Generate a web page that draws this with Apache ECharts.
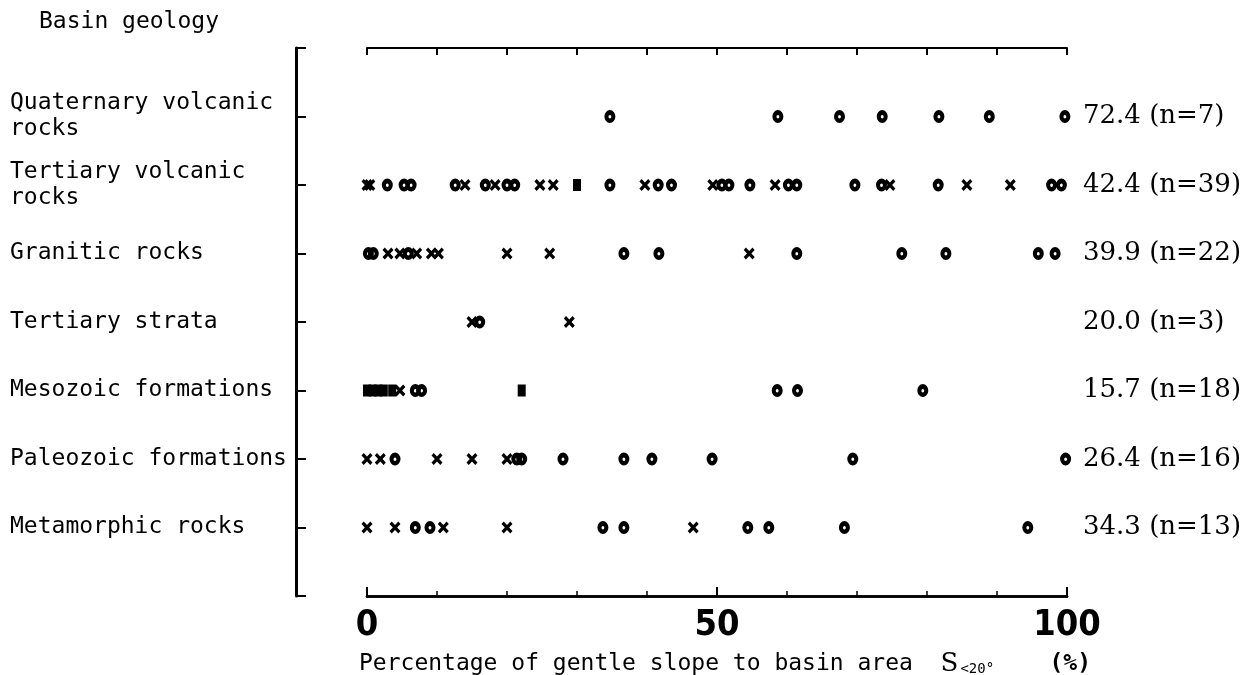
<!DOCTYPE html>
<html>
<head>
<meta charset="utf-8">
<script src="https://cdn.jsdelivr.net/npm/echarts@6/dist/echarts.min.js"></script>
<style>
html,body{margin:0;padding:0;background:#fff;}
#main{width:1248px;height:675px;}
</style>
</head>
<body>
<div id="main"></div>
<script>
// rows, top to bottom
var geology = ['Quaternary volcanic\nrocks', 'Tertiary volcanic\nrocks', 'Granitic rocks', 'Tertiary strata',
               'Mesozoic formations', 'Paleozoic formations', 'Metamorphic rocks'];
var summary = ['72.4 (n=7)', '42.4 (n=39)', '39.9 (n=22)', '20.0 (n=3)', '15.7 (n=18)', '26.4 (n=16)', '34.3 (n=13)'];
var xTicks = [0, 50, 100];

// S<20 values (%) per row, by marker
var circleVals = [
    [34.7, 58.7, 67.5, 73.6, 81.7, 88.9, 99.7],
    [2.9, 5.3, 6.3, 12.6, 16.9, 20.0, 21.1, 34.7, 41.6, 43.5, 50.7, 51.7, 54.7, 60.2, 61.4, 69.7, 73.5, 81.6, 97.8, 99.2],
    [0.2, 0.9, 5.9, 36.7, 41.7, 61.4, 76.4, 82.7, 95.9, 98.3],
    [16.1],
    [6.9, 7.8, 58.6, 61.5, 79.4],
    [4.0, 21.4, 22.1, 28.0, 36.7, 40.7, 49.3, 69.4, 99.8],
    [6.9, 9.0, 33.7, 36.7, 54.4, 57.4, 68.2, 94.4]
];
var crossVals = [
    [],
    [0, 0.4, 14.0, 18.3, 24.7, 26.6, 39.7, 49.4, 58.3, 74.7, 85.7, 91.9],
    [3.0, 4.7, 7.1, 9.2, 10.2, 20.0, 26.1, 54.6],
    [15.0, 28.9],
    [4.7],
    [0, 1.9, 10.0, 15.0, 20.0],
    [0, 4.0, 10.9, 20.0, 46.6]
];
var squareVals = [
    [],
    [30.0],
    [],
    [],
    [0, 0.8, 1.6, 2.4, 3.6, 22.1],
    [],
    []
];

// row slots on the y scale run 2..8 (1 and 9 are the frame ends)
var ROW0 = 2;
function toPoints(rows) {
    var pts = [];
    rows.forEach(function (vals, i) {
        vals.forEach(function (v) { pts.push([v, i + ROW0]); });
    });
    return pts;
}

var monoFont = '"DejaVu Sans Mono", monospace';
// black ring with a small hole
var ringPath = 'path://M5,0A5,6 0 1,1 5,12A5,6 0 1,1 5,0ZM5,4.6A1.3,1.6 0 1,0 5,7.8A1.3,1.6 0 1,0 5,4.6Z';
var crossPath = 'path://M0,2L2,0L5,3L8,0L10,2L7,5L10,8L8,10L5,7L2,10L0,8L3,5Z';

var myChart = echarts.init(document.getElementById('main'), null, {renderer: 'canvas'});
var option = {
    backgroundColor: '#fff',
    animation: false,
    title: [{
        text: 'Basin geology',
        left: 34, top: 6,
        textStyle: {fontFamily: monoFont, fontSize: 23, fontWeight: 'normal', color: '#000'}
    }, {
        text: 'Percentage of gentle slope to basin area  {s|S}{sub|<20°}    {p|(%)}',
        left: 354, top: 646,
        textStyle: {
            fontFamily: monoFont, fontSize: 23, fontWeight: 'normal', color: '#000',
            rich: {
                s: {fontFamily: '"DejaVu Serif", serif', fontSize: 26, color: '#000'},
                sub: {fontFamily: monoFont, fontSize: 14, color: '#000', padding: [10, 0, 0, 2]},
                p: {fontFamily: monoFont, fontSize: 23, fontWeight: 'bold', color: '#000'}
            }
        }
    }],
    grid: {left: 367, right: 181, top: 48, bottom: 79},
    xAxis: [{
        // 0 / 50 / 100 with long ticks and labels
        type: 'value', position: 'bottom', min: 0, max: 100, interval: 50,
        axisLine: {show: true, onZero: false, lineStyle: {color: '#000', width: 2.5}},
        axisTick: {show: true, inside: true, length: 9, lineStyle: {color: '#000', width: 2}},
        axisLabel: {
            margin: 12, color: '#000', fontSize: 36, fontWeight: 'bold',
            fontFamily: '"Liberation Sans Narrow", "DejaVu Sans Condensed", sans-serif',
            formatter: function (v) { return xTicks.indexOf(v) >= 0 ? String(v) : ''; }
        },
        splitLine: {show: false}
    }, {
        // top frame line
        type: 'value', position: 'top', min: 0, max: 100, interval: 10,
        axisLine: {show: true, onZero: false, lineStyle: {color: '#000', width: 2}},
        axisTick: {show: true, inside: true, length: 7, lineStyle: {color: '#000', width: 2}},
        axisLabel: {show: false},
        splitLine: {show: false}
    }, {
        // short ticks every 10 on the bottom line
        type: 'value', position: 'bottom', min: 0, max: 100, interval: 10,
        axisLine: {show: true, onZero: false, lineStyle: {color: '#000', width: 2.5}},
        axisTick: {show: true, inside: true, length: 5, lineStyle: {color: '#000', width: 1.5}},
        axisLabel: {show: false},
        splitLine: {show: false}
    }],
    yAxis: [{
        type: 'value', inverse: true, min: 1, max: 9, interval: 1,
        position: 'left', offset: 71,
        axisLine: {show: true, onZero: false, lineStyle: {color: '#000', width: 3}},
        axisTick: {show: true, inside: true, length: 10, lineStyle: {color: '#000', width: 2}},
        axisLabel: {
            align: 'left', margin: 286, color: '#000', fontSize: 23, lineHeight: 26,
            fontFamily: monoFont,
            formatter: function (v) { return geology[v - ROW0] || ''; }
        },
        splitLine: {show: false}
    }, {
        type: 'value', inverse: true, min: 1, max: 9, interval: 1,
        position: 'right',
        axisLine: {show: false, onZero: false},
        axisTick: {show: false},
        axisLabel: {
            align: 'left', margin: 16, color: '#000', fontSize: 26,
            fontFamily: '"DejaVu Serif", serif',
            formatter: function (v) { return summary[v - ROW0] || ''; }
        },
        splitLine: {show: false}
    }],
    series: [{
        name: 'circle', type: 'scatter',
        symbol: ringPath, symbolSize: [11, 13],
        itemStyle: {color: '#000', opacity: 1},
        data: toPoints(circleVals)
    }, {
        name: 'cross', type: 'scatter',
        symbol: crossPath, symbolSize: [11, 12],
        itemStyle: {color: '#000', opacity: 1},
        data: toPoints(crossVals)
    }, {
        name: 'square', type: 'scatter',
        symbol: 'rect', symbolSize: [8, 12],
        itemStyle: {color: '#000', opacity: 1},
        data: toPoints(squareVals)
    }]
};
myChart.setOption(option);
</script>
</body>
</html>
